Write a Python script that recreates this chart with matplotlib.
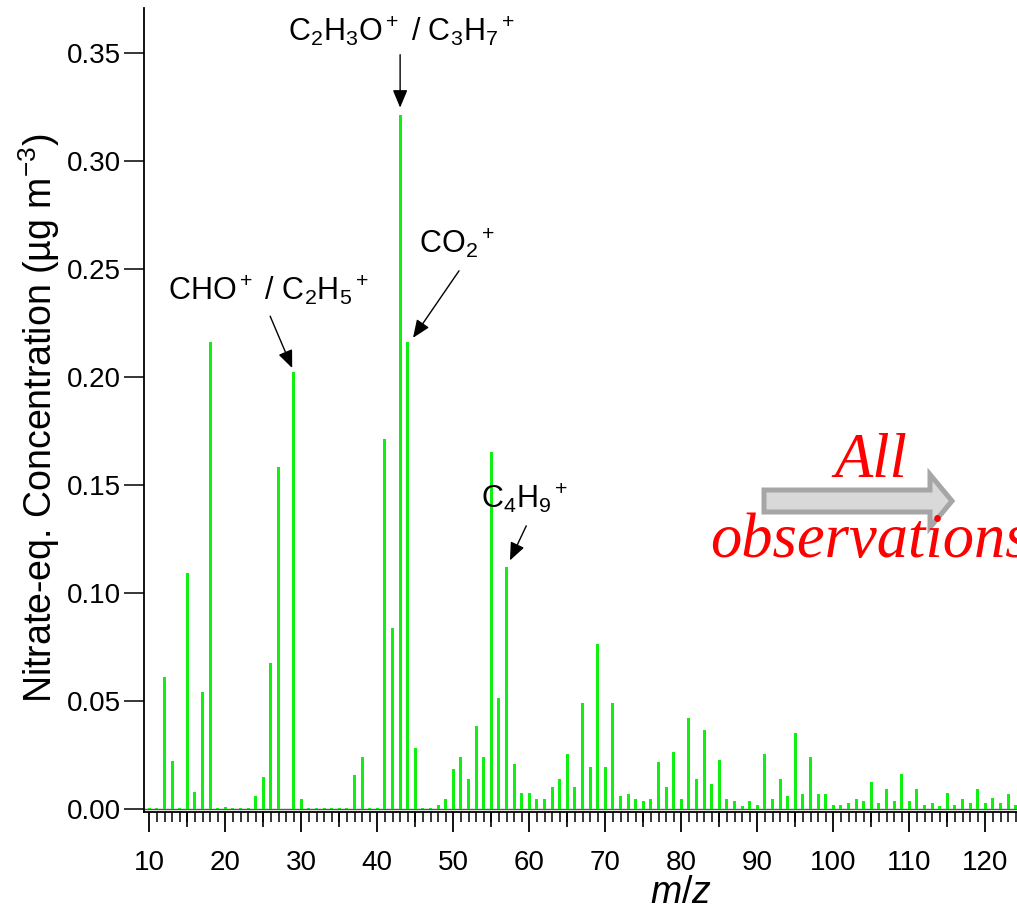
import numpy as np
import matplotlib
matplotlib.use("Agg")
import matplotlib.pyplot as plt
from matplotlib.patches import FancyArrow
from matplotlib.ticker import MultipleLocator, FormatStrFormatter

plt.rcParams['font.family'] = ['Liberation Sans', 'DejaVu Sans']
plt.rcParams['mathtext.fontset'] = 'custom'
plt.rcParams['mathtext.rm'] = 'Liberation Sans'
plt.rcParams['mathtext.it'] = 'Liberation Sans:italic'

# m/z 10 .. 124, nitrate-equivalent concentration (ug m-3)
mz = np.arange(10, 125)
conc = [
    0.0005, 0.0005, 0.061, 0.022, 0.0005, 0.109, 0.008, 0.054, 0.216, 0.0005,   # 10-19
    0.001, 0.0005, 0.0005, 0.0005, 0.006, 0.015, 0.0675, 0.158, 0.0, 0.202,      # 20-29
    0.0045, 0.0005, 0.0005, 0.0005, 0.0005, 0.0005, 0.0005, 0.0155, 0.024, 0.0005,  # 30-39
    0.0005, 0.171, 0.0836, 0.321, 0.216, 0.028, 0.0005, 0.0005, 0.002, 0.0045,  # 40-49
    0.0186, 0.024, 0.014, 0.0383, 0.024, 0.165, 0.0515, 0.112, 0.021, 0.0076,   # 50-59
    0.0076, 0.0044, 0.0044, 0.0101, 0.014, 0.0255, 0.0101, 0.049, 0.0194, 0.0765,  # 60-69
    0.0194, 0.049, 0.0062, 0.007, 0.0044, 0.0036, 0.0044, 0.0217, 0.0101, 0.0263,  # 70-79
    0.0044, 0.0422, 0.014, 0.0367, 0.0117, 0.0225, 0.0044, 0.0036, 0.0013, 0.0036,  # 80-89
    0.002, 0.0255, 0.0044, 0.0138, 0.006, 0.035, 0.0067, 0.024, 0.0067, 0.0067,  # 90-99
    0.002, 0.002, 0.0029, 0.0044, 0.0036, 0.0123, 0.0029, 0.0092, 0.0036, 0.0161,  # 100-109
    0.0036, 0.0092, 0.002, 0.0029, 0.0013, 0.0075, 0.002, 0.0044, 0.0029, 0.0092,  # 110-119
    0.0029, 0.0052, 0.0029, 0.0067, 0.002,                                       # 120-124
]

# labelled peaks: (label, m/z, text position, arrow tail, arrow tip)
peaks = [
    ('C$_2$H$_3$O$^+$ / C$_3$H$_7$$^+$', 43, (43.15, 0.360), (43.0, 0.349), (43.0, 0.3245)),
    ('CO$_2$$^+$', 44, (50.5, 0.262), (50.75, 0.249), (44.7, 0.218)),
    ('CHO$^+$ / C$_2$H$_5$$^+$', 29, (25.75, 0.240), (25.9, 0.228), (28.8, 0.204)),
    ('C$_4$H$_9$$^+$', 57, (59.4, 0.144), (59.6, 0.131), (57.45, 0.115)),
]

W, H = 1017, 913
fig = plt.figure(figsize=(W / 100, H / 100), dpi=100)
ax = fig.add_axes([144 / W, (H - 812) / H, 1 - 144 / W, (812 - 8) / H])

ax.bar(mz, conc, width=0.4, color='#11ee11', zorder=2)
ax.axhline(0, color='0.35', lw=1.0, zorder=1)

ax.set_xlim(9.3, 124.17)
ax.set_ylim(-0.0014, 0.3706)

for s in ['top', 'right']:
    ax.spines[s].set_visible(False)
for s in ['left', 'bottom']:
    ax.spines[s].set_linewidth(1.3)

ax.xaxis.set_major_locator(MultipleLocator(10))
ax.xaxis.set_minor_locator(MultipleLocator(1))
ax.yaxis.set_major_locator(MultipleLocator(0.05))
ax.yaxis.set_major_formatter(FormatStrFormatter('%.2f'))
ax.tick_params(axis='x', which='major', direction='out', length=14.4, width=1.3,
               labelsize=20, pad=13)
ax.tick_params(axis='x', which='minor', direction='out', length=7.2, width=1.1)
ax.tick_params(axis='y', which='major', direction='out', length=14.4, width=1.1,
               labelsize=20, pad=2)

# medium ticks every 5
sec = ax.secondary_xaxis('bottom')
sec.set_xticks(np.arange(15, 125, 10))
sec.tick_params(direction='out', length=10.8, width=1.2, labelbottom=False)
sec.spines['bottom'].set_visible(False)

ax.set_ylabel('Nitrate-eq. Concentration (µg m$^{-3}$)', fontsize=27)
ax.yaxis.set_label_coords(-0.094, 0.49)
ax.set_xlabel('$m/z$', fontsize=27)
ax.xaxis.set_label_coords(0.615, -0.078)

for label, m, txt, tail, tip in peaks:
    ax.text(txt[0], txt[1], label, fontsize=22, ha='center', va='center')
    ax.annotate('', xy=tip, xytext=tail,
                arrowprops=dict(arrowstyle='-|>,head_length=0.6,head_width=0.25',
                                color='black', lw=1.0, mutation_scale=18,
                                shrinkA=0, shrinkB=0))

arrow = FancyArrow(7.64, (H - 501) / 100, 1.88, 0, width=0.22, head_width=0.53,
                   head_length=0.22, length_includes_head=True,
                   fc='#d9d9d9', ec='#a6a6a6', lw=3.6,
                   transform=fig.dpi_scale_trans, zorder=5)
fig.add_artist(arrow)

fig.text(871 / W, 1 - 462 / H, 'All', color='red', family='Liberation Serif',
         style='italic', fontsize=45, ha='center', va='center', zorder=6)
fig.text(710 / W, 1 - 557 / H, 'observations', color='red', family='Liberation Serif',
         style='italic', fontsize=45, ha='left', va='baseline', zorder=6)

fig.savefig('out.png', dpi=100)
